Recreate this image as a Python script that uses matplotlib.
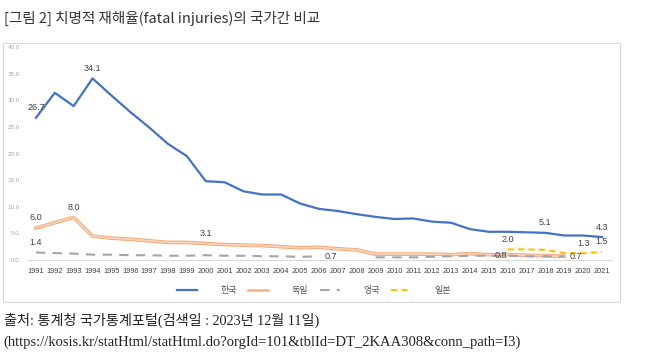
import matplotlib
matplotlib.use('Agg')
import matplotlib.pyplot as plt
import matplotlib.patheffects as pe
from matplotlib.patches import Rectangle
from matplotlib.lines import Line2D
import numpy as np

plt.rcParams['font.family'] = ['Noto Sans CJK KR', 'DejaVu Sans']

nan = np.nan
years = list(range(1991, 2022))
korea = [26.7, 31.4, 28.9, 34.1, 30.9, 27.8, 24.9, 21.8, 19.5, 14.8, 14.6, 12.9, 12.3, 12.3, 10.6, 9.6,
         9.2, 8.6, 8.1, 7.7, 7.8, 7.2, 7.0, 5.8, 5.3, 5.3, 5.2, 5.1, 4.6, 4.6, 4.3]
germany = [6.0, 7.0, 8.0, 4.5, 4.1, 3.9, 3.6, 3.3, 3.3, 3.1, 2.9, 2.8, 2.7, 2.5, 2.3, 2.4,
           2.1, 1.9, 1.1, 1.1, 1.1, 1.1, 1.0, 1.2, 1.0, 1.0, 0.9, 0.8, 0.7, nan, nan]
uk = [1.4, 1.3, 1.2, 1.0, 1.0, 0.9, 0.9, 0.8, 0.8, 0.9, 0.8, 0.8, 0.7, 0.7, 0.6, 0.7,
      nan, nan, 0.5, 0.5, 0.5, 0.6, 0.7, 0.8, 0.8, 0.8, 0.7, 0.7, 0.7, nan, nan]
japan = [nan] * 25 + [2.0, 2.0, 1.9, 1.3, 1.3, 1.5]
names = ['한국', '독일', '영국', '일본']

# 값 라벨: (계열, 연도, 위치)
labels = [(0, 1991, 'up'), (0, 1994, 'up'), (0, 2018, 'up'), (0, 2021, 'up'),
          (1, 1991, 'up'), (1, 1993, 'up'), (1, 2000, 'up'), (1, 2019, 'right'),
          (2, 1991, 'up'), (2, 2006, 'right'), (2, 2015, 'right'),
          (3, 2016, 'up'), (3, 2020, 'up'), (3, 2021, 'up')]

fig = plt.figure(figsize=(6.6, 3.55), dpi=100)
fig.patch.set_facecolor('white')

# 차트 테두리
fig.patches.append(Rectangle((3/660, 1-302/355), 617/660, 259/355, transform=fig.transFigure,
                             fill=False, edgecolor='#D9D9D9', linewidth=0.8))

ax = fig.add_axes([28/660, 1-260/355, 584/660, 213/355])
series = [korea, germany, uk, japan]
l1, = ax.plot(years, korea, color='#4472C4', lw=1.6, solid_joinstyle='round')
ax.plot(years, germany, color='#FAD3B8', lw=1.3,
        path_effects=[pe.Stroke(linewidth=2.6, foreground='#EFA778'), pe.Normal()])
l2 = Line2D([], [], color='#F4B183', lw=1.8)
l3, = ax.plot(years, uk, color='#A5A5A5', lw=1.5, dashes=(4.5, 3.5))
l4, = ax.plot(years, japan, color='#FFC000', lw=1.5, dashes=(3, 2))

for si, yr, pos in labels:
    v = series[si][yr - 1991]
    if pos == 'up':
        ax.annotate(f'{v:.1f}', (yr, v), xytext=(0, 4), textcoords='offset points',
                    ha='center', va='bottom', fontsize=6.5, color='#404040', family='Liberation Sans')
    else:
        ax.annotate(f'{v:.1f}', (yr, v), xytext=(4, 0), textcoords='offset points',
                    ha='left', va='center', fontsize=6.5, color='#404040', family='Liberation Sans')

ax.set_xlim(1990.58, 2021.53)
ax.set_ylim(0, 40)
ax.set_yticks(np.arange(0, 41, 5))
ax.set_yticklabels([f'{t:.1f}' for t in np.arange(0, 41, 5)], fontsize=4.5, color='#A6A6A6',
                   family='Liberation Sans')
ax.set_xticks(years)
ax.set_xticklabels([str(y) for y in years], fontsize=5.3, color='#404040', family='Liberation Sans')
ax.tick_params(axis='both', length=0)
ax.tick_params(axis='y', pad=6)
ax.tick_params(axis='x', pad=6)
for s in ['top', 'right', 'left']:
    ax.spines[s].set_visible(False)
ax.spines['bottom'].set_color('#D9D9D9')
ax.spines['bottom'].set_linewidth(0.8)

leg = fig.legend([l1, l2, l3, l4], names, loc='center', bbox_to_anchor=(314/660, 1-290.7/355),
                 ncol=4, frameon=False, fontsize=6.5, handlelength=2.2, handletextpad=2.6,
                 columnspacing=1.3)
for t in leg.get_texts():
    t.set_color('#595959')

fig.text(4/660, 1-18/355, '[그림 2] 치명적 재해율(fatal injuries)의 국가간 비교', fontsize=10.5,
         color='#333333', ha='left', va='center')
fig.text(4/660, 1-320/355, '출처: 통계청 국가통계포털(검색일 : 2023년 12월 11일)', fontsize=10.2,
         color='#222222', ha='left', va='center', family=['Liberation Serif', 'Noto Sans CJK KR'])
fig.text(3/660, 1-342/355, '(https://kosis.kr/statHtml/statHtml.do?orgId=101&tblId=DT_2KAA308&conn_path=I3)',
         fontsize=10.5, color='#222222', ha='left', va='center', family='Liberation Serif')

fig.savefig('out.png', dpi=100)
